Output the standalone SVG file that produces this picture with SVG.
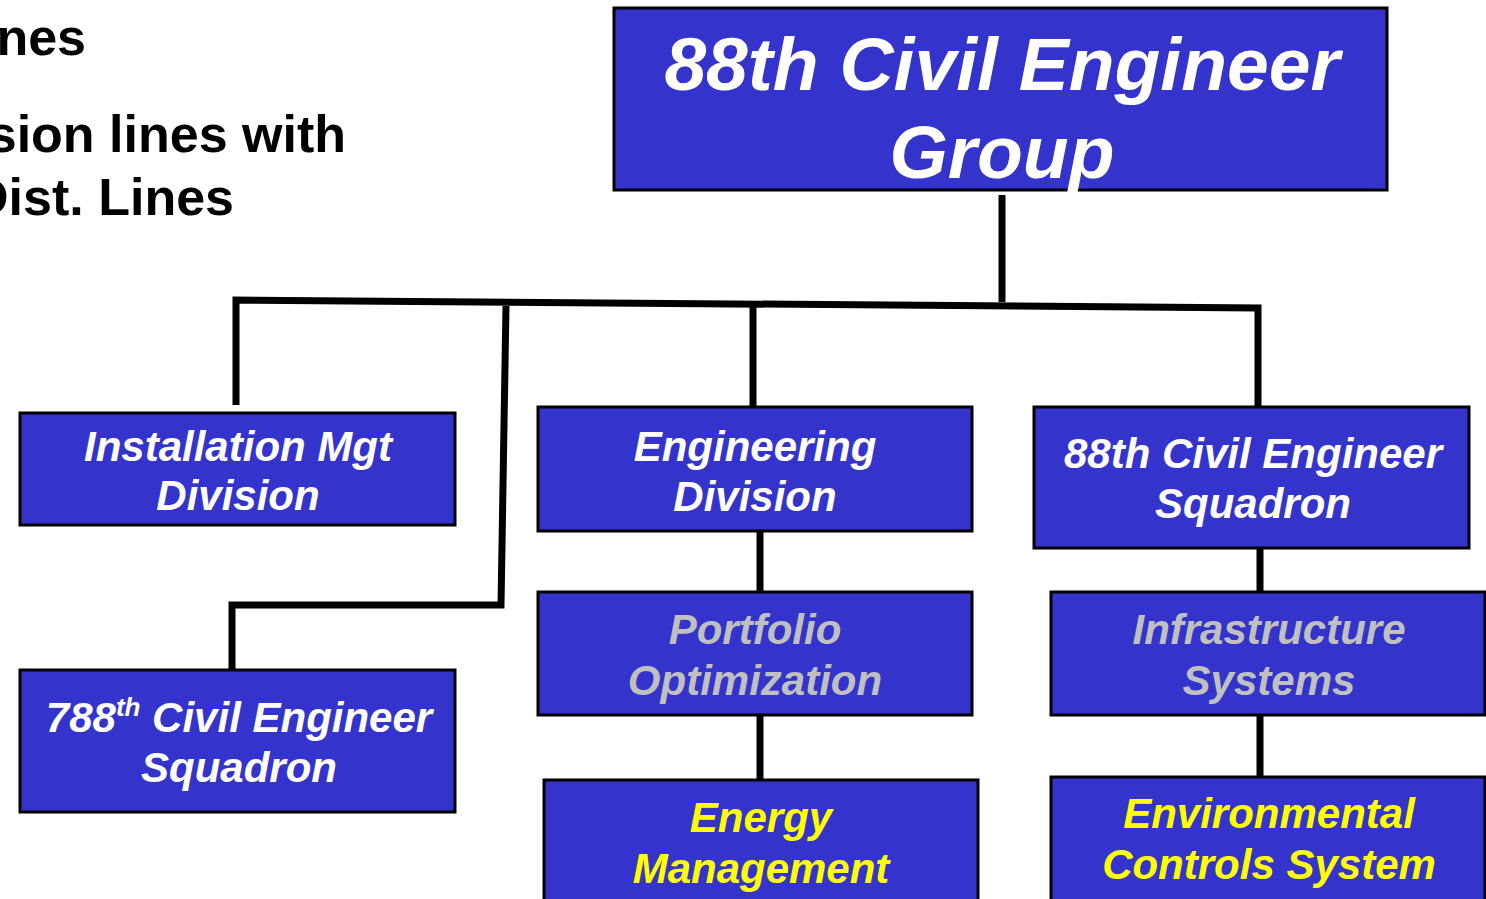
<svg xmlns="http://www.w3.org/2000/svg" width="1486" height="899" viewBox="0 0 1486 899">
<style>
.box{fill:#3434CC;stroke:#000;stroke-width:3}
.t{font-family:"Liberation Sans",Arial,sans-serif;font-weight:bold;font-style:italic;font-size:42px;text-anchor:middle}
.w{fill:#fff}
.g{fill:#C0C0C0}
.y{fill:#FFFF00}
.side{font-family:"Liberation Sans",Arial,sans-serif;font-weight:bold;font-size:52px;fill:#000;text-anchor:end}
.c{fill:none;stroke:#000;stroke-width:7;stroke-linejoin:miter;stroke-linecap:butt}
</style>
<rect width="1486" height="899" fill="#fff"/>
<g id="side-text">
<text class="side" x="86" y="55">nes</text>
<text class="side" x="346" y="152">sion lines with</text>
<text class="side" x="234" y="215">Dist. Lines</text>
</g>
<g id="connectors">
<path class="c" d="M1002,195 V302"/>
<path class="c" d="M236,405 V300 L1258,308 V407"/>
<path class="c" d="M753,305 V407"/>
<path class="c" d="M506,306 L501,605 H232 V670"/>
<path class="c" d="M760,531 V592"/>
<path class="c" d="M760,715 V780"/>
<path class="c" d="M1260,548 V592"/>
<path class="c" d="M1260,715 V777"/>
</g>
<g id="group88">
<rect class="box" x="614" y="8" width="773" height="182"/>
<text class="t w" x="1002" y="90" style="font-size:75px">88th Civil Engineer</text>
<text class="t w" x="1002" y="178" style="font-size:75px">Group</text>
</g>
<g id="installation">
<rect class="box" x="20" y="413" width="435" height="112"/>
<text class="t w" x="238" y="461">Installation Mgt</text>
<text class="t w" x="238" y="510">Division</text>
</g>
<g id="engineering">
<rect class="box" x="538" y="407" width="434" height="124"/>
<text class="t w" x="755" y="461">Engineering</text>
<text class="t w" x="755" y="511">Division</text>
</g>
<g id="ces88">
<rect class="box" x="1034" y="407" width="435" height="141"/>
<text class="t w" x="1253" y="468">88th Civil Engineer</text>
<text class="t w" x="1253" y="518">Squadron</text>
</g>
<g id="ces788">
<rect class="box" x="20" y="670" width="435" height="142"/>
<text class="t w" x="239" y="732">788<tspan dy="-16" style="font-size:26px">th</tspan><tspan dy="16"> Civil Engineer</tspan></text>
<text class="t w" x="239" y="782">Squadron</text>
</g>
<g id="portfolio">
<rect class="box" x="538" y="592" width="434" height="123"/>
<text class="t g" x="755" y="644">Portfolio</text>
<text class="t g" x="755" y="695">Optimization</text>
</g>
<g id="infrastructure">
<rect class="box" x="1051" y="592" width="434" height="123"/>
<text class="t g" x="1269" y="644">Infrastructure</text>
<text class="t g" x="1269" y="695">Systems</text>
</g>
<g id="energy">
<rect class="box" x="544" y="780" width="434" height="130"/>
<text class="t y" x="761" y="832">Energy</text>
<text class="t y" x="761" y="883">Management</text>
</g>
<g id="environmental">
<rect class="box" x="1051" y="777" width="434" height="133"/>
<text class="t y" x="1269" y="828">Environmental</text>
<text class="t y" x="1269" y="879">Controls System</text>
</g>
</svg>
